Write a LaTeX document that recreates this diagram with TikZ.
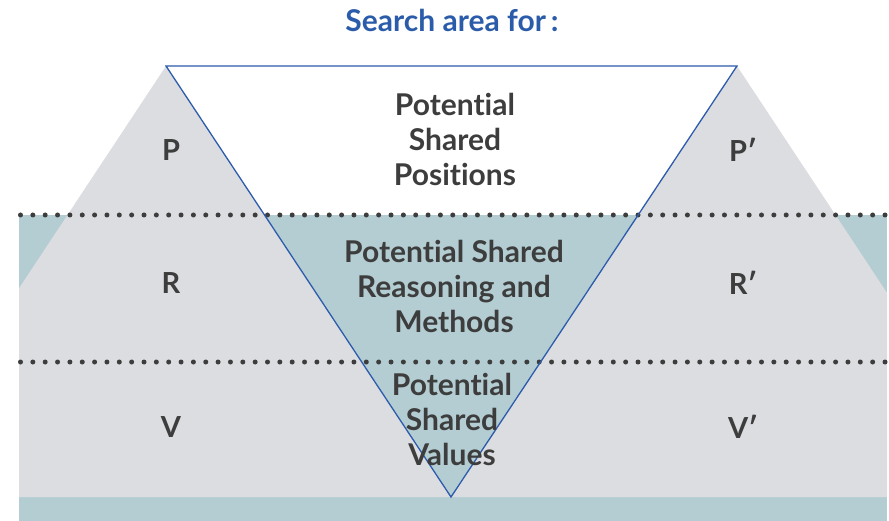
\documentclass[tikz,border=0pt]{standalone}
\usepackage{fontspec}
\newfontfamily\latofont[Ligatures={NoCommon}]{Lato}
\usepackage{tikz}
\definecolor{titleblue}{RGB}{43,92,170}
\definecolor{edgeblue}{RGB}{45,92,172}
\definecolor{hillgrey}{RGB}{220,221,224}
\definecolor{seateal}{RGB}{179,205,210}
\definecolor{inkgrey}{RGB}{61,61,61}

\begin{document}
\begin{tikzpicture}[x=1pt,y=-1pt,
    zone/.style={font=\latofont\bfseries\fontsize{30}{35}\selectfont,
      text=inkgrey,align=center,inner sep=0pt},
    sidelbl/.style={font=\latofont\bfseries\fontsize{29}{30}\selectfont,text=inkgrey},
    heading/.style={font=\latofont\bfseries\fontsize{30}{32}\selectfont,text=titleblue},
    dotline/.style={inkgrey,line width=5pt,line cap=round,dash pattern=on 0pt off 12.35pt},
    vee/.style={edgeblue,line width=1.3pt,line join=miter}
  ]
  \useasboundingbox (0,0) rectangle (889,521);

  % corners of the search area
  \coordinate (tl) at (166,66);
  \coordinate (tr) at (737,66);
  \coordinate (tip) at (451,497);

  % water below the first dotted line
  \fill[seateal] (19,215) rectangle (887,521);

  % the two hills
  \begin{scope}
    \clip (19,0) rectangle (887,497);
    \fill[hillgrey] (tl) -- (tip) -- (-119,497) -- cycle;
    \fill[hillgrey] (tr) -- (1022,497) -- (tip) -- cycle;
  \end{scope}

  % inverted triangle: white on top, teal below
  \fill[seateal] (tl) -- (tr) -- (tip) -- cycle;
  \begin{scope}
    \clip (0,0) rectangle (889,215);
    \fill[white] (tl) -- (tr) -- (tip) -- cycle;
  \end{scope}

  % dotted level lines
  \draw[dotline] (20.5,215) -- (887,215);
  \draw[dotline] (20.5,362) -- (887,362);

  \draw[vee] (tl) -- (tr) -- (tip) -- cycle;

  % texts
  \node[heading] (title) at (452,20) {Search area for\,:};
  \node[zone] (pos) at (455,139) {Potential\\Shared\\Positions};
  \node[zone] (reas) at (454,286) {Potential Shared\\Reasoning and\\Methods};
  \node[zone] (vals) at (452,419) {Potential\\Shared\\Values};

  \node[sidelbl] (P) at (171,150) {P};
  \node[sidelbl] (R) at (171,283) {R};
  \node[sidelbl] (V) at (171,427) {V};
  \node[sidelbl] (Pp) at (743,150) {P′};
  \node[sidelbl] (Rp) at (743,283) {R′};
  \node[sidelbl] (Vp) at (743,427) {V′};
\end{tikzpicture}
\end{document}
